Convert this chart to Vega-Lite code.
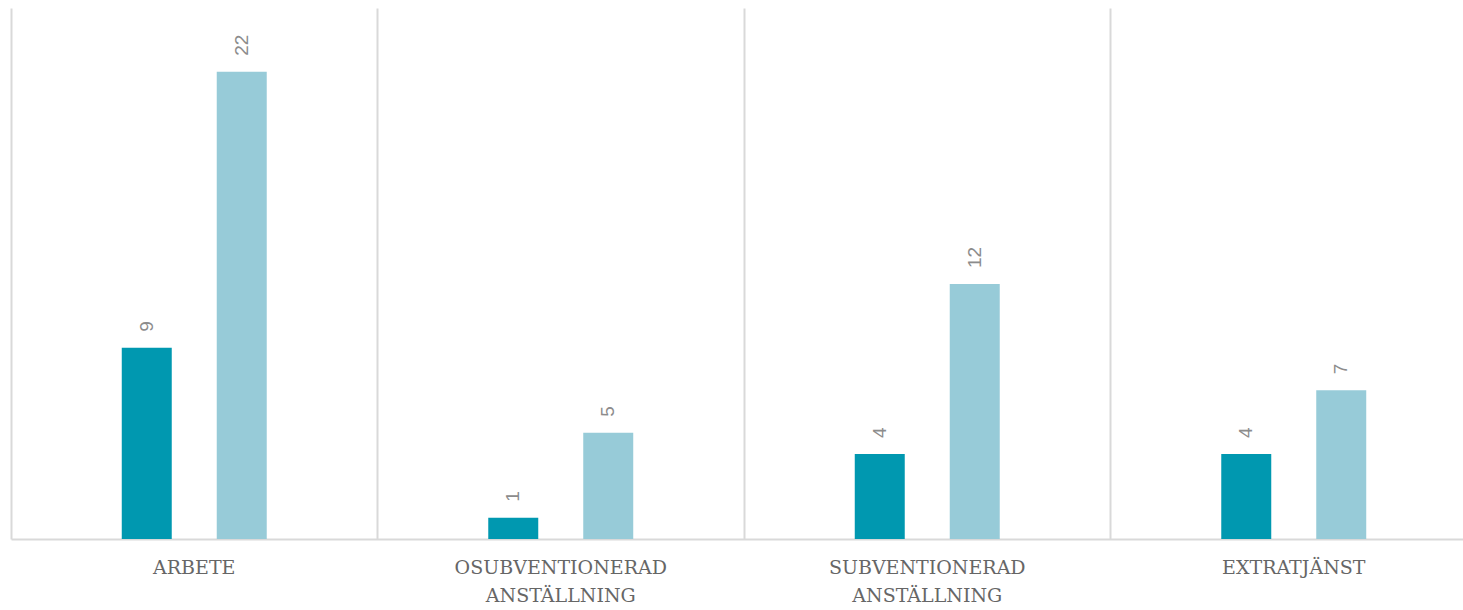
{
  "$schema": "https://vega.github.io/schema/vega-lite/v6.json",
  "width": 1452,
  "height": 531,
  "autosize": {"type": "none"},
  "padding": {"left": 11, "top": 8, "right": 0, "bottom": 71},
  "background": "white",
  "config": {"view": {"stroke": null}},
  "data": {
    "values": [
      {"kategori": "ARBETE", "serie": "Serie 1", "antal": 9},
      {"kategori": "ARBETE", "serie": "Serie 2", "antal": 22},
      {"kategori": "OSUBVENTIONERAD ANSTÄLLNING", "serie": "Serie 1", "antal": 1},
      {"kategori": "OSUBVENTIONERAD ANSTÄLLNING", "serie": "Serie 2", "antal": 5},
      {"kategori": "SUBVENTIONERAD ANSTÄLLNING", "serie": "Serie 1", "antal": 4},
      {"kategori": "SUBVENTIONERAD ANSTÄLLNING", "serie": "Serie 2", "antal": 12},
      {"kategori": "EXTRATJÄNST", "serie": "Serie 1", "antal": 4},
      {"kategori": "EXTRATJÄNST", "serie": "Serie 2", "antal": 7}
    ]
  },
  "encoding": {
    "x": {
      "field": "kategori",
      "type": "nominal",
      "sort": null,
      "title": null,
      "scale": {"range": [0, 1466], "paddingInner": 0, "paddingOuter": 0},
      "axis": {
        "bandPosition": 0,
        "grid": true,
        "gridColor": "#D9D9D9",
        "gridWidth": 2,
        "domainColor": "#D9D9D9",
        "domainWidth": 2,
        "ticks": false,
        "labelAngle": 0,
        "labelAlign": "center",
        "labelBaseline": "top",
        "labelPadding": 19,
        "labelFont": "DejaVu Serif",
        "labelFontSize": 19,
        "labelColor": "#666666",
        "labelLineHeight": 28,
        "labelExpr": "split(datum.label, ' ')",
        "labelBound": false,
        "labelOverlap": false,
        "labelLimit": 0
      }
    },
    "xOffset": {
      "field": "serie",
      "type": "nominal",
      "scale": {"domain": ["_a", "Serie 1", "Serie 2", "_b"], "paddingInner": 0.4737, "paddingOuter": 0.166}
    },
    "y": {
      "field": "antal",
      "type": "quantitative",
      "scale": {"domain": [0, 25], "nice": false},
      "axis": null
    }
  },
  "layer": [
    {
      "mark": {"type": "bar"},
      "encoding": {
        "color": {
          "field": "serie",
          "type": "nominal",
          "scale": {"domain": ["Serie 1", "Serie 2"], "range": ["#0098B0", "#97CBD8"]},
          "legend": null
        }
      }
    },
    {
      "mark": {
        "type": "text",
        "angle": -90,
        "align": "left",
        "baseline": "middle",
        "dx": 16,
        "font": "Liberation Sans",
        "fontSize": 19,
        "color": "#8C8C8C"
      },
      "encoding": {
        "text": {"field": "antal", "type": "quantitative"}
      }
    }
  ]
}
